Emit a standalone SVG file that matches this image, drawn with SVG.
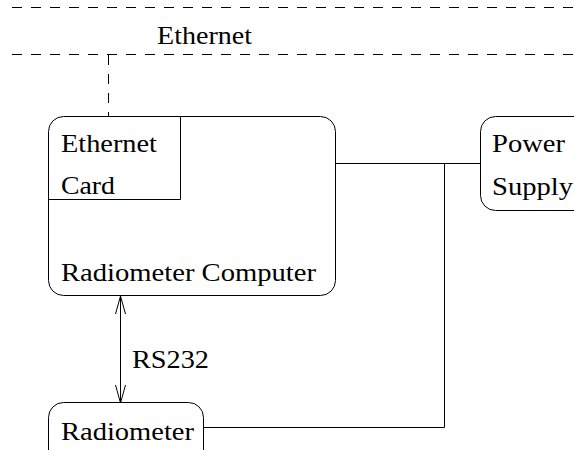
<svg xmlns="http://www.w3.org/2000/svg" width="574" height="450" viewBox="0 0 574 450">
<defs>
<style>
.ln{fill:none;stroke:#000;stroke-width:1}
.dash{fill:none;stroke:#000;stroke-width:1;stroke-dasharray:10 9}
.box{fill:#fff;stroke:#000;stroke-width:1}
.t{font-family:'Liberation Serif','Times New Roman',Times,'DejaVu Serif',serif;font-size:26px;fill:#000}
</style>
<marker id="open" viewBox="0 0 18 12" refX="18" refY="6" markerWidth="18" markerHeight="12" markerUnits="userSpaceOnUse" orient="auto-start-reverse">
<path d="M0,1 L18,6 L0,11" fill="none" stroke="#000" stroke-width="1"/>
</marker>
</defs>
<g id="ethernet-bus">
<line class="dash" x1="12" y1="7.5" x2="574" y2="7.5"/>
<line class="dash" x1="12" y1="54.5" x2="574" y2="54.5"/>
<text class="t" x="157" y="43.5" textLength="95" lengthAdjust="spacingAndGlyphs">Ethernet</text>
</g>
<g id="connectors">
<line class="dash" x1="108.5" y1="55" x2="108.5" y2="116"/>
<polyline class="ln" points="336,163.5 480,163.5"/>
<polyline class="ln" points="444.5,163.5 444.5,427.5 204,427.5"/>
<line class="ln" x1="120.5" y1="296" x2="120.5" y2="403" marker-start="url(#open)" marker-end="url(#open)"/>
<text class="t" x="132" y="368" textLength="77" lengthAdjust="spacingAndGlyphs">RS232</text>
</g>
<g id="radiometer-computer">
<rect class="box" x="48.5" y="116.5" width="287" height="179" rx="15" ry="15"/>
<text class="t" x="61" y="280.5" textLength="255" lengthAdjust="spacingAndGlyphs">Radiometer Computer</text>
</g>
<g id="ethernet-card">
<path class="ln" d="M48.5,199.5 L180.5,199.5 L180.5,116.5"/>
<text class="t" x="61" y="152" textLength="96" lengthAdjust="spacingAndGlyphs">Ethernet</text>
<text class="t" x="61" y="194" textLength="54" lengthAdjust="spacingAndGlyphs">Card</text>
</g>
<g id="power-supply">
<rect class="box" x="480.5" y="116.5" width="120" height="94" rx="15" ry="15"/>
<text class="t" x="492" y="152" textLength="73" lengthAdjust="spacingAndGlyphs">Power</text>
<text class="t" x="492" y="195" textLength="81" lengthAdjust="spacingAndGlyphs">Supply</text>
</g>
<g id="radiometer">
<rect class="box" x="48.5" y="402.5" width="155" height="70" rx="15" ry="15"/>
<text class="t" x="61" y="440" textLength="133" lengthAdjust="spacingAndGlyphs">Radiometer</text>
</g>
</svg>
